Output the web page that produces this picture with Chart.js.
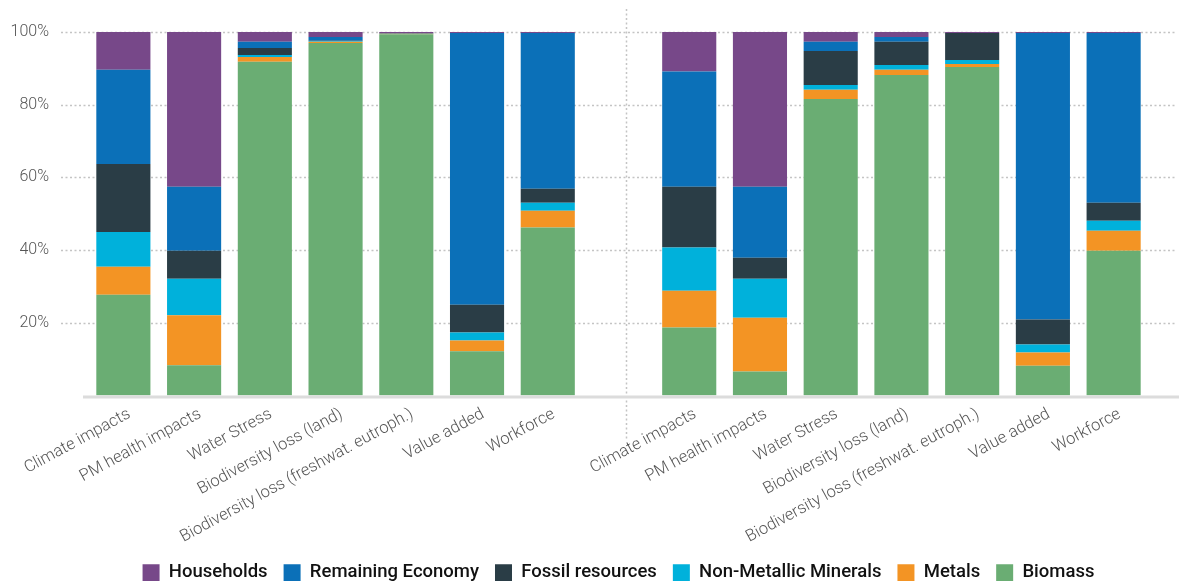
<!DOCTYPE html>
<html>
<head>
<meta charset="utf-8">
<script src="https://cdn.jsdelivr.net/npm/chart.js@4"></script>
<style>
  html, body { margin: 0; padding: 0; background: #fff; overflow: hidden; }
  #wrap { position: relative; width: 1179px; height: 592px; }
</style>
</head>
<body>
<div id="wrap"><canvas id="chart"></canvas></div>
<script>
  // categories (empty slot in the middle separates the two groups)
  const labels = [
    "Climate impacts", "PM health impacts", "Water Stress", "Biodiversity loss (land)",
    "Biodiversity loss (freshwat. eutroph.)", "Value added", "Workforce",
    "",
    "Climate impacts", "PM health impacts", "Water Stress", "Biodiversity loss (land)",
    "Biodiversity loss (freshwat. eutroph.)", "Value added", "Workforce"
  ];

  // shares in %, bottom to top
  const biomass   = [27.7, 8.3, 91.8, 97.0, 99.4, 12.2, 46.2, null, 18.7, 6.6, 81.6, 88.2, 90.4, 8.2, 39.8];
  const metals    = [7.7, 13.8, 1.3, 0.3, 0.1, 2.9, 4.6, null, 10.1, 14.8, 2.5, 1.4, 0.8, 3.6, 5.5];
  const nonMetal  = [9.6, 10.0, 0.6, 0.2, 0.05, 2.2, 2.2, null, 11.9, 10.7, 1.3, 1.3, 1.1, 2.2, 2.8];
  const fossil    = [18.7, 7.7, 1.9, 0.1, 0.05, 7.7, 3.9, null, 16.7, 5.8, 9.4, 6.4, 7.4, 6.9, 4.9];
  const remaining = [25.9, 17.6, 1.7, 1.0, 0.1, 74.7, 42.8, null, 31.7, 19.5, 2.5, 1.3, 0.0, 78.8, 46.7];
  const households = [10.4, 42.6, 2.7, 1.4, 0.3, 0.3, 0.3, null, 10.9, 42.6, 2.7, 1.4, 0.3, 0.3, 0.3];

  const yTicks = [0, 20, 40, 60, 80, 100];

  const colors = {
    biomass: "#6aad73",
    metals: "#f39424",
    nonMetal: "#00b1db",
    fossil: "#2a3d46",
    remaining: "#0b70b8",
    households: "#774889"
  };

  const FONT = "Roboto, 'Liberation Sans', sans-serif";

  // dotted gridlines, baseline and group divider
  const decorations = {
    id: "decorations",
    beforeDatasetsDraw(chart) {
      const { ctx, chartArea: a, scales: { x, y } } = chart;
      ctx.save();
      ctx.strokeStyle = "#c4c4c4";
      ctx.lineWidth = 1.5;
      ctx.setLineDash([2, 2.5]);
      yTicks.filter((v) => v > 0).forEach((v) => {
        const py = Math.round(y.getPixelForValue(v)) + 0.5;
        ctx.beginPath();
        ctx.moveTo(a.left - 27, py);
        ctx.lineTo(a.right + 28, py);
        ctx.stroke();
      });
      const px = Math.round(x.getPixelForValue(7) + 7.5) + 0.5;
      ctx.beginPath();
      ctx.moveTo(px, a.top - 23);
      ctx.lineTo(px, a.bottom + 44);
      ctx.stroke();
      ctx.restore();
    },
    afterDatasetsDraw(chart) {
      const { ctx, chartArea: a } = chart;
      ctx.save();
      ctx.fillStyle = "#dcdcdc";
      ctx.fillRect(a.left - 5, a.bottom, a.right - a.left + 35, 3);
      ctx.restore();
    }
  };

  const ds = (label, data, color) => ({
    label,
    data,
    backgroundColor: color,
    borderWidth: 0,
    categoryPercentage: 1,
    barPercentage: 0.765
  });

  new Chart(document.getElementById("chart"), {
    type: "bar",
    data: {
      labels,
      datasets: [
        ds("Biomass", biomass, colors.biomass),
        ds("Metals", metals, colors.metals),
        ds("Non-Metallic Minerals", nonMetal, colors.nonMetal),
        ds("Fossil resources", fossil, colors.fossil),
        ds("Remaining Economy", remaining, colors.remaining),
        ds("Households", households, colors.households)
      ]
    },
    options: {
      responsive: true,
      maintainAspectRatio: false,
      animation: false,
      layout: { padding: { top: 32, right: 30, left: 0, bottom: 0 } },
      plugins: {
        tooltip: { enabled: false },
        legend: {
          position: "bottom",
          fullSize: false,
          reverse: true,
          labels: {
            boxWidth: 17,
            boxHeight: 17,
            padding: 16,
            color: "#111",
            font: { family: FONT, size: 18.5, weight: 500 }
          }
        }
      },
      scales: {
        x: {
          stacked: true,
          grid: { display: false, drawTicks: false },
          border: { display: false },
          ticks: {
            autoSkip: false,
            minRotation: 28.5,
            maxRotation: 28.5,
            padding: 9,
            labelOffset: 6,
            color: "#555",
            font: { family: FONT, size: 16.5, weight: 300 }
          },
          afterFit: (scale) => { scale.height = 152; }
        },
        y: {
          stacked: true,
          min: 0,
          max: 100,
          grid: { display: false, drawTicks: false },
          border: { display: false },
          afterBuildTicks: (scale) => { scale.ticks = yTicks.map((v) => ({ value: v })); },
          ticks: {
            padding: 39,
            color: "#555",
            font: { family: FONT, size: 16, weight: 300 },
            callback: (v) => (v === 0 ? "" : `${v}%`)
          },
          afterFit: (scale) => {
            scale.width = 88;
            scale.paddingTop = 0;
            scale.paddingBottom = 0;
          }
        }
      }
    },
    plugins: [decorations]
  });
</script>
</body>
</html>
